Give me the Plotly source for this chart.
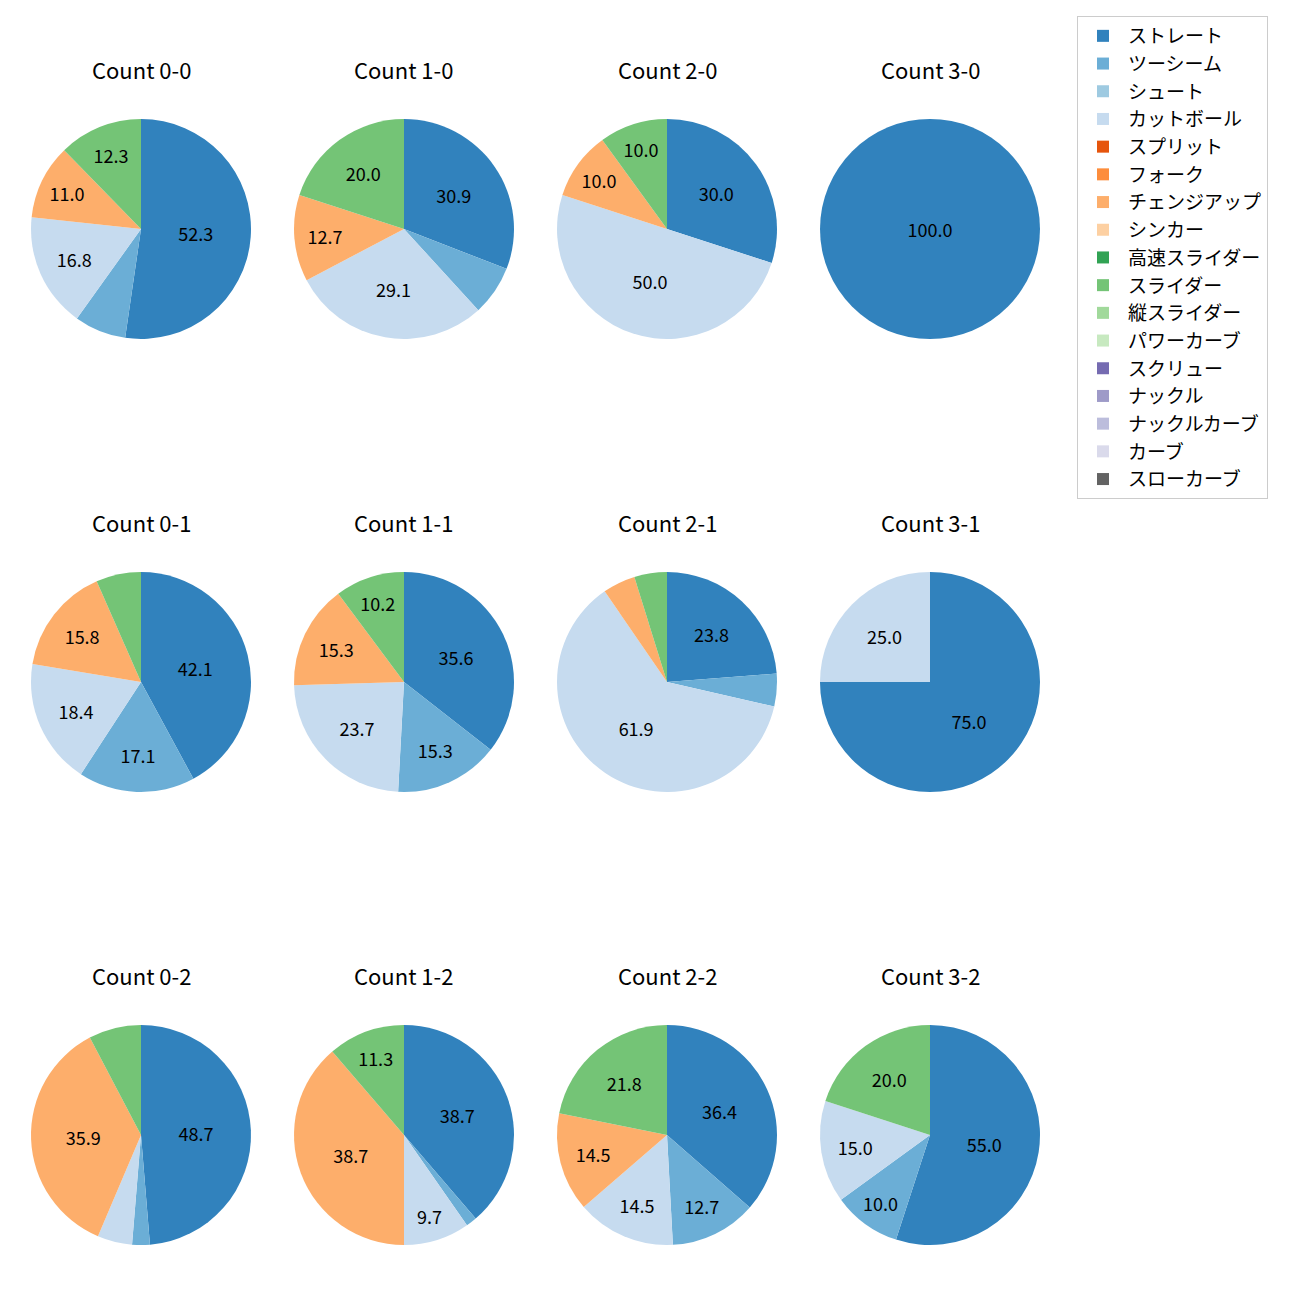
import plotly.graph_objects as go

pitch_types = ["ストレート", "ツーシーム", "シュート", "カットボール", "スプリット", "フォーク",
               "チェンジアップ", "シンカー", "高速スライダー", "スライダー", "縦スライダー",
               "パワーカーブ", "スクリュー", "ナックル", "ナックルカーブ", "カーブ", "スローカーブ"]
colors = ["#3182bd", "#6baed6", "#9ecae1", "#c6dbef", "#e6550d", "#fd8d3c", "#fdae6b",
          "#fdd0a2", "#31a354", "#74c476", "#a1d99b", "#c7e9c0", "#756bb1", "#9e9ac8",
          "#bcbddc", "#dadaeb", "#636363"]

counts = ["0-0", "1-0", "2-0", "3-0",
          "0-1", "1-1", "2-1", "3-1",
          "0-2", "1-2", "2-2", "3-2"]

# share (%) of: ストレート, ツーシーム, カットボール, チェンジアップ, スライダー
straight = [52.3, 30.9, 30.0, 100.0, 42.1, 35.6, 23.8, 75.0, 48.7, 38.7, 36.4, 55.0]
twoseam  = [7.6, 7.3, 0.0, 0.0, 17.1, 15.3, 4.8, 0.0, 2.6, 1.6, 12.7, 10.0]
cutball  = [16.8, 29.1, 50.0, 0.0, 18.4, 23.7, 61.9, 25.0, 5.1, 9.7, 14.5, 15.0]
changeup = [11.0, 12.7, 10.0, 0.0, 15.8, 15.3, 4.8, 0.0, 35.9, 38.7, 14.5, 0.0]
slider   = [12.3, 20.0, 10.0, 0.0, 6.6, 10.2, 4.8, 0.0, 7.7, 11.3, 21.8, 20.0]

FONT = "Noto Sans CJK JP"
W = H = 1300
col_cx = [141, 404, 667, 930]
row_cy = [229, 682, 1135]
R = 110

fig = go.Figure()
for i, c in enumerate(counts):
    r, col = divmod(i, 4)
    vals = {name: 0.0 for name in pitch_types}
    vals["ストレート"] = straight[i]
    vals["ツーシーム"] = twoseam[i]
    vals["カットボール"] = cutball[i]
    vals["チェンジアップ"] = changeup[i]
    vals["スライダー"] = slider[i]
    v = [vals[n] for n in pitch_types]
    txt = [f"{x:.1f}" if x >= 9 else "" for x in v]
    cx, cy = col_cx[col], row_cy[r]
    fig.add_trace(go.Pie(
        labels=pitch_types, values=v, text=txt, textinfo="text",
        textposition="inside", insidetextorientation="horizontal",
        textfont=dict(size=18, color="black", family=FONT),
        marker=dict(colors=colors, line=dict(width=0)),
        sort=False, direction="clockwise", rotation=0,
        domain=dict(x=[(cx - R) / W, (cx + R) / W], y=[1 - (cy + R) / H, 1 - (cy - R) / H]),
        showlegend=(i == 0), hoverinfo="label+percent",
    ))
    fig.add_annotation(x=cx / W, y=1 - (cy - 160) / H, xref="paper", yref="paper",
                       text=f"Count {c}", showarrow=False,
                       font=dict(size=22, color="black", family=FONT),
                       xanchor="center", yanchor="middle")

fig.update_layout(
    width=W, height=H, margin=dict(l=0, r=0, t=0, b=0),
    paper_bgcolor="white", plot_bgcolor="white",
    font=dict(family=FONT, color="black"),
    legend=dict(x=1077 / W, y=1 - 16 / H, xanchor="left", yanchor="top",
                bordercolor="#cccccc", borderwidth=1, font=dict(size=19, family=FONT),
                traceorder="normal", itemwidth=40),
)
fig.write_html("out.html")
